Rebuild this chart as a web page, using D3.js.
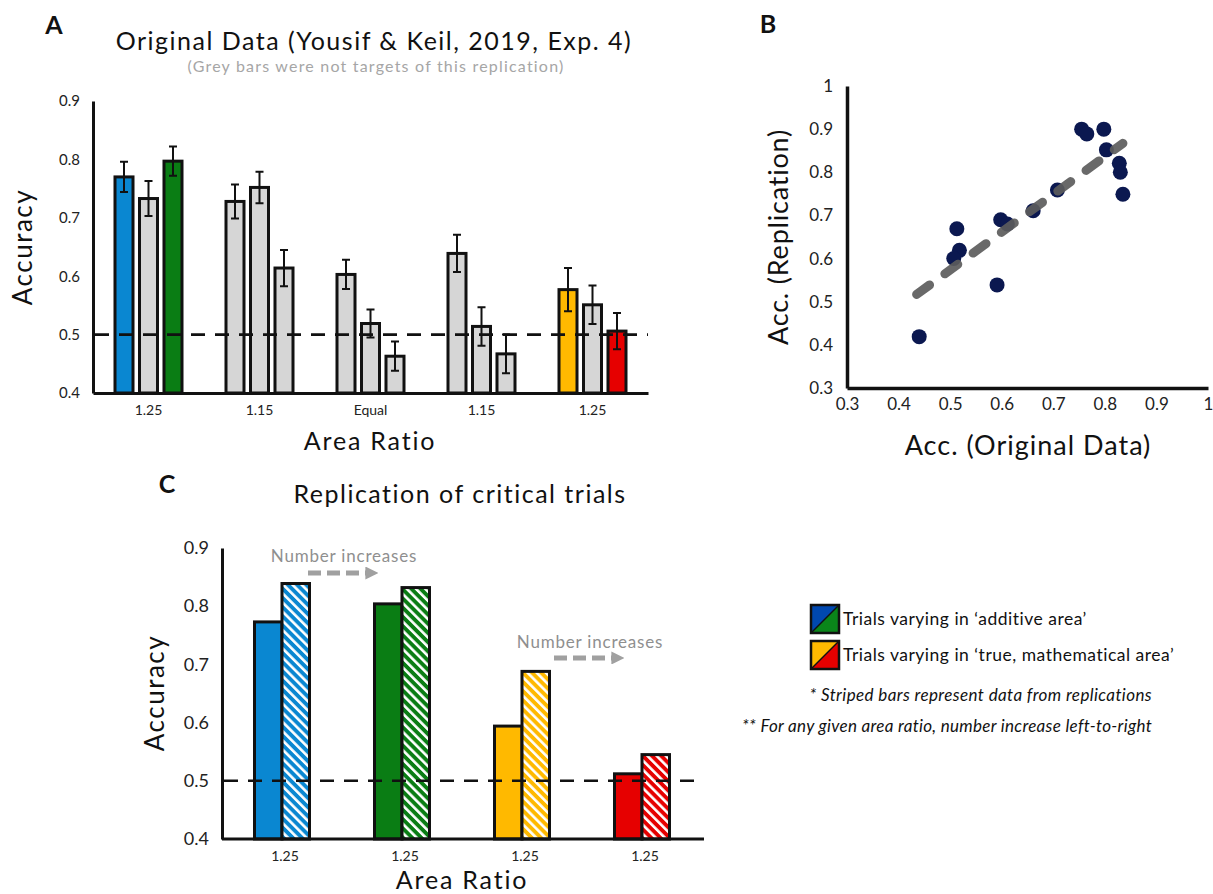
<!DOCTYPE html>
<html>
<head>
<meta charset="utf-8">
<script src="https://cdn.jsdelivr.net/npm/d3@7"></script>
<style>
  body { margin: 0; background: #fff; }
  svg { font-family: Lato, "Open Sans", sans-serif; }
</style>
</head>
<body>
<svg id="chart" width="1213" height="894"></svg>
<script>
// ---- data ----
// panel A: original data, 5 area-ratio groups x 3 bars
const groupsA = ["1.25", "1.15", "Equal", "1.15", "1.25"];
const accA = [
  [0.770, 0.733, 0.797],
  [0.728, 0.752, 0.614],
  [0.603, 0.519, 0.463],
  [0.639, 0.514, 0.467],
  [0.577, 0.551, 0.506]
];
const errA = [
  [0.026, 0.030, 0.025],
  [0.029, 0.027, 0.031],
  [0.025, 0.024, 0.025],
  [0.032, 0.033, 0.033],
  [0.037, 0.033, 0.031]
];
const fillA = [
  ["blue", "grey", "green"],
  ["grey", "grey", "grey"],
  ["grey", "grey", "grey"],
  ["grey", "grey", "grey"],
  ["yellow", "grey", "red"]
];
const ticksA = [0.4, 0.5, 0.6, 0.7, 0.8, 0.9];

// panel B: original vs replication accuracy
const origAcc = [0.440, 0.513, 0.518, 0.507, 0.591, 0.598, 0.611, 0.661,
                 0.708, 0.755, 0.765, 0.798, 0.803, 0.828, 0.830, 0.835];
const replAcc = [0.419, 0.669, 0.619, 0.600, 0.539, 0.690, 0.680, 0.711,
                 0.759, 0.900, 0.889, 0.900, 0.852, 0.821, 0.800, 0.749];
const ticksB = [0.3, 0.4, 0.5, 0.6, 0.7, 0.8, 0.9, 1];

// panel C: critical trials, original vs replication
const groupsC = ["1.25", "1.25", "1.25", "1.25"];
const origC = [0.773, 0.804, 0.594, 0.512];
const replC = [0.839, 0.832, 0.688, 0.545];
const fillC = ["blue", "green", "yellow", "red"];

// "Number increases" notes: group index, horizontal offset, text / arrow level
const notes = [
  { gi: 0, dx: 62, text: 0.876, arrow: 0.857 },
  { gi: 2, dx: 68, text: 0.728, arrow: 0.711 }
];

const colors = {
  blue: "#0a87d1", green: "#0a7d14", yellow: "#ffb900",
  red: "#e60000", grey: "#d6d6d6"
};

const svg = d3.select("#chart");
const defs = svg.append("defs");

// stripe patterns for replication bars
Object.keys(colors).forEach(k => {
  const p = defs.append("pattern")
    .attr("id", "stripe-" + k)
    .attr("patternUnits", "userSpaceOnUse")
    .attr("width", 6.5).attr("height", 6.5)
    .attr("patternTransform", "rotate(-45)");
  p.append("rect").attr("width", 6.5).attr("height", 6.5).attr("fill", colors[k]);
  p.append("rect").attr("x", 0).attr("width", 2.6).attr("height", 6.5).attr("fill", "#fff");
});

const ink = "#111";

function label(x, y, txt, size, ls, opts) {
  opts = opts || {};
  const t = svg.append("text")
    .attr("transform", opts.rotate ? `translate(${x},${y}) rotate(-90)` : `translate(${x},${y})`)
    .attr("text-anchor", opts.anchor || "middle")
    .attr("font-size", size)
    .attr("letter-spacing", ls)
    .attr("fill", opts.fill || ink)
    .text(txt);
  if (opts.bold) t.attr("font-weight", "bold");
  if (opts.italic) t.attr("font-style", "italic");
  return t;
}

// ================= Panel A =================
const xA = d3.scaleBand().domain(d3.range(groupsA.length)).range([93, 648]);
const subA = d3.scaleBand().domain([0, 1, 2]).range([-33.5, 33.5]).paddingInner(0.265);
const yA = d3.scaleLinear().domain([0.4, 0.9]).range([393, 101]);

label(54, 34, "A", 25, 0, { bold: true });
label(374, 50, "Original Data (Yousif & Keil, 2019, Exp. 4)", 25, 1.5);
label(376, 72, "(Grey bars were not targets of this replication)", 16, 1.2, { fill: "#a6a6a6" });

const gA = svg.append("g");
groupsA.forEach((g, gi) => {
  accA[gi].forEach((v, bi) => {
    const cx = xA(gi) + xA.bandwidth() / 2 + subA(bi) + subA.bandwidth() / 2;
    gA.append("rect")
      .attr("x", cx - subA.bandwidth() / 2)
      .attr("y", yA(v))
      .attr("width", subA.bandwidth())
      .attr("height", yA(0.4) - yA(v))
      .attr("fill", colors[fillA[gi][bi]])
      .attr("stroke", ink).attr("stroke-width", 3);
  });
});

// chance line
svg.append("line").attr("x1", 95).attr("x2", 648)
  .attr("y1", yA(0.5)).attr("y2", yA(0.5))
  .attr("stroke", ink).attr("stroke-width", 2.6).attr("stroke-dasharray", "14,10");

// error bars
groupsA.forEach((g, gi) => {
  accA[gi].forEach((v, bi) => {
    const cx = xA(gi) + xA.bandwidth() / 2 + subA(bi) + subA.bandwidth() / 2;
    const lo = yA(v - errA[gi][bi]), hi = yA(v + errA[gi][bi]);
    gA.append("path")
      .attr("d", `M${cx},${lo}V${hi}M${cx - 4},${lo}H${cx + 4}M${cx - 4},${hi}H${cx + 4}`)
      .attr("stroke", ink).attr("stroke-width", 2).attr("fill", "none");
  });
});

const axA = svg.append("g").attr("transform", "translate(93,0)")
  .call(d3.axisLeft(yA).tickValues(ticksA).tickFormat(d3.format(".1f")).tickSize(0).tickPadding(13));
const axAx = svg.append("g").attr("transform", "translate(0,393)")
  .call(d3.axisBottom(xA).tickFormat(i => groupsA[i]).tickSize(0).tickPadding(12));
[axA, axAx].forEach(a => {
  a.select(".domain").attr("stroke", ink).attr("stroke-width", 3);
  a.selectAll("text").attr("font-size", 15).attr("fill", "#222").attr("font-family", "Lato, sans-serif");
});
axAx.selectAll("text").attr("font-size", 14);

label(370, 450, "Area Ratio", 25, 1.8);
label(32, 247, "Accuracy", 26, 1.5, { rotate: true });

// ================= Panel B =================
const xB = d3.scaleLinear().domain([0.3, 1]).range([847, 1208]);
const yB = d3.scaleLinear().domain([0.3, 1]).range([388, 86]);

label(768, 33, "B", 25, 0, { bold: true });

const axBy = svg.append("g").attr("transform", "translate(847,0)")
  .call(d3.axisLeft(yB).tickValues(ticksB).tickFormat(d3.format("~g")).tickSize(0).tickPadding(14));
const axBx = svg.append("g").attr("transform", "translate(0,388)")
  .call(d3.axisBottom(xB).tickValues(ticksB).tickFormat(d3.format("~g")).tickSize(0).tickPadding(10));
[axBy, axBx].forEach(a => {
  a.select(".domain").attr("stroke", ink).attr("stroke-width", 3.5);
  a.selectAll("text").attr("font-size", 17).attr("fill", "#222").attr("font-family", "Lato, sans-serif");
});

const pts = origAcc.map((x, i) => ({ x: x, y: replAcc[i] }));
svg.append("g").selectAll("circle").data(pts).enter().append("circle")
  .attr("cx", d => xB(d.x)).attr("cy", d => yB(d.y)).attr("r", 7.5)
  .attr("fill", "#0b1850");

// least-squares trend line
const mx = d3.mean(origAcc), my = d3.mean(replAcc);
const slope = d3.sum(pts, d => (d.x - mx) * (d.y - my)) / d3.sum(pts, d => (d.x - mx) ** 2);
const xExt = [d3.min(origAcc) - 0.005, d3.max(origAcc)];
const trend = xExt.map(x => ({ x: x, y: my + slope * (x - mx) }));
svg.append("path").datum(trend)
  .attr("d", d3.line().x(d => xB(d.x)).y(d => yB(d.y)))
  .attr("stroke", "#5c5c5c").attr("stroke-opacity", 0.92).attr("stroke-width", 9)
  .attr("stroke-linecap", "round").attr("stroke-dasharray", "16,19").attr("fill", "none");

label(788, 237, "Acc. (Replication)", 27, 0.8, { rotate: true });
label(1028, 455, "Acc. (Original Data)", 27, 1);

// ================= Panel C =================
const xC = d3.scaleBand().domain(d3.range(groupsC.length)).range([222, 702]);
const yC = d3.scaleLinear().domain([0.4, 0.9]).range([839, 548]);
const bwC = 27.5;

label(167, 493, "C", 25, 0, { bold: true });
label(460, 503, "Replication of critical trials", 25, 1.5);

const gC = svg.append("g");
groupsC.forEach((g, i) => {
  const c = xC(i) + xC.bandwidth() / 2;
  gC.append("rect").attr("x", c - bwC).attr("y", yC(origC[i]))
    .attr("width", bwC).attr("height", yC(0.4) - yC(origC[i]))
    .attr("fill", colors[fillC[i]]).attr("stroke", ink).attr("stroke-width", 3);
  gC.append("rect").attr("x", c).attr("y", yC(replC[i]))
    .attr("width", bwC).attr("height", yC(0.4) - yC(replC[i]))
    .attr("fill", `url(#stripe-${fillC[i]})`).attr("stroke", ink).attr("stroke-width", 3);
});

svg.append("line").attr("x1", 224).attr("x2", 704)
  .attr("y1", yC(0.5)).attr("y2", yC(0.5))
  .attr("stroke", ink).attr("stroke-width", 2.6).attr("stroke-dasharray", "14,10");

const axCy = svg.append("g").attr("transform", "translate(222,0)")
  .call(d3.axisLeft(yC).tickValues(ticksA).tickFormat(d3.format(".1f")).tickSize(0).tickPadding(13));
const axCx = svg.append("g").attr("transform", "translate(0,839)")
  .call(d3.axisBottom(xC).tickFormat(i => groupsC[i]).tickSize(0).tickPadding(12));
axCx.select(".domain").attr("d", "M222,0H704");
[axCy, axCx].forEach(a => {
  a.select(".domain").attr("stroke", ink).attr("stroke-width", 3);
  a.selectAll("text").attr("font-size", 18).attr("fill", "#222").attr("font-family", "Lato, sans-serif");
});
axCx.selectAll("text").attr("font-size", 14).attr("transform", "translate(3,0)");

label(462, 889, "Area Ratio", 25, 1.8);
label(164, 693, "Accuracy", 26, 1.5, { rotate: true });

// "Number increases" annotations
defs.append("marker").attr("id", "arrowhead").attr("viewBox", "0 0 10 10")
  .attr("refX", 2).attr("refY", 5).attr("markerWidth", 2.6).attr("markerHeight", 2.6)
  .attr("markerUnits", "strokeWidth").attr("orient", "auto")
  .append("path").attr("d", "M0,0L10,5L0,10Z").attr("fill", "#a0a0a0");
notes.forEach(n => {
  const c = xC(n.gi) + xC.bandwidth() / 2;
  label(c + n.dx, yC(n.text), "Number increases", 17, 0.8, { fill: "#8f8f8f" });
  svg.append("line").attr("x1", c + n.dx - 36).attr("x2", c + n.dx + 24)
    .attr("y1", yC(n.arrow)).attr("y2", yC(n.arrow))
    .attr("stroke", "#a0a0a0").attr("stroke-width", 5).attr("stroke-dasharray", "13,6")
    .attr("marker-end", "url(#arrowhead)");
});

// ================= Legend =================
const legend = [
  { a: "#0048b0", b: "#0a851a", label: "Trials varying in \u2018additive area\u2019" },
  { a: "#ffb900", b: "#e60000", label: "Trials varying in \u2018true, mathematical area\u2019" }
];
legend.forEach((l, i) => {
  const x0 = 811, y0 = 605 + i * 36, s = 28;
  const g = svg.append("g").attr("transform", `translate(${x0},${y0})`);
  g.append("path").attr("d", `M0,0H${s}L0,${s}Z`).attr("fill", l.a);
  g.append("path").attr("d", `M${s},0V${s}H0Z`).attr("fill", l.b);
  g.append("path").attr("d", `M0,${s}L${s},0`).attr("stroke", ink).attr("stroke-width", 1.5);
  g.append("rect").attr("width", s).attr("height", s).attr("fill", "none")
    .attr("stroke", ink).attr("stroke-width", 2.5);
  label(x0 + s + 4, y0 + s / 2 + 6, l.label, 17.5, 0.5, { anchor: "start" });
});
label(1152, 701, "* Striped bars represent data from replications", 17, 0.4, { anchor: "end", italic: true });
label(1152, 732, "** For any given area ratio, number increase left-to-right", 17, 0.3, { anchor: "end", italic: true });
</script>
</body>
</html>
